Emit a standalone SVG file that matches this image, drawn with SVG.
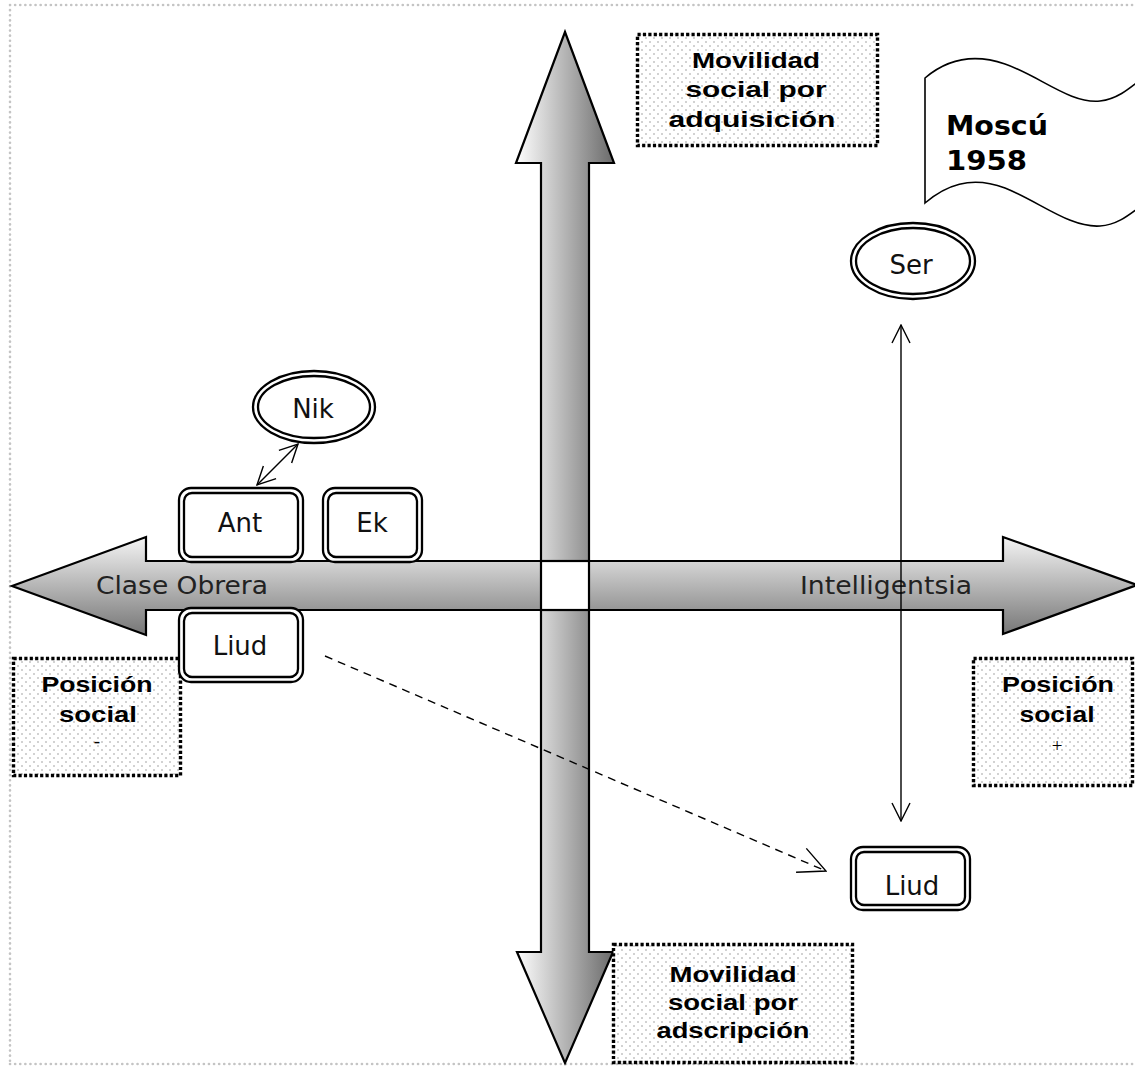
<svg xmlns="http://www.w3.org/2000/svg" width="1135" height="1066" viewBox="0 0 1135 1066">
  <style>
    .page { fill: none; stroke: #c4c4c4; stroke-width: 2.6; stroke-dasharray: 0.1 5; stroke-linecap: round; }
    .shaft { stroke: #000; stroke-width: 2.2; stroke-linejoin: miter; }
    .note { fill: url(#dots); stroke: #000; stroke-width: 3.4; stroke-dasharray: 3.2 2.2; }
    .note-t { font-family: "Liberation Sans", Arial, sans-serif; font-weight: bold; font-size: 22px; fill: #000; text-anchor: middle; }
    .sign { font-family: "Liberation Serif", "Times New Roman", serif; font-size: 19px; fill: #000; text-anchor: middle; }
    .dbl { fill: #fff; stroke: #000; stroke-width: 2.3; }
    .node-t { font-family: "DejaVu Sans", Verdana, sans-serif; font-size: 26px; fill: #111; text-anchor: middle; }
    .axis-t { font-family: "DejaVu Sans", Verdana, sans-serif; font-size: 24px; fill: #222; }
    .flag-t { font-family: "DejaVu Sans", Verdana, sans-serif; font-weight: bold; font-size: 27px; fill: #000; }
    .link { fill: none; stroke: #000; stroke-width: 1.4; }
    .dash { stroke-dasharray: 8 6; }
  </style>
  <defs>
    <linearGradient id="gradV" x1="0" y1="0" x2="1" y2="0">
      <stop offset="0" stop-color="#ffffff"/>
      <stop offset="1" stop-color="#6a6a6a"/>
    </linearGradient>
    <linearGradient id="gradH" x1="0" y1="0" x2="0" y2="1">
      <stop offset="0" stop-color="#f4f4f4"/>
      <stop offset="1" stop-color="#767676"/>
    </linearGradient>
    <pattern id="dots" width="8" height="8" patternUnits="userSpaceOnUse">
      <rect width="8" height="8" fill="#fff"/>
      <circle cx="2" cy="2" r="0.8" fill="#9a9a9a"/>
      <circle cx="6" cy="6" r="0.8" fill="#9a9a9a"/>
    </pattern>
    <marker id="open" viewBox="0 0 22 22" refX="21" refY="11" markerWidth="22" markerHeight="22" markerUnits="userSpaceOnUse" orient="auto-start-reverse">
      <path d="M3,2 L21,11 L3,20" fill="none" stroke="#000" stroke-width="1.4" stroke-dasharray="none"/>
    </marker>
    <marker id="openBig" viewBox="0 0 32 32" refX="31" refY="16" markerWidth="32" markerHeight="32" markerUnits="userSpaceOnUse" orient="auto">
      <path d="M4,3 L31,16 L4,29" fill="none" stroke="#000" stroke-width="1.4" stroke-dasharray="none"/>
    </marker>
  </defs>

  <!-- page frame -->
  <path class="page" d="M10,5 H1135 M10,5 V1064 M10,1064 H1135"/>

  <!-- axes -->
  <g id="axis-vertical">
    <polygon class="shaft" fill="url(#gradV)" points="565,32 614,163 589,163 589,952 613,952 565,1063 517,952 541,952 541,163 516,163"/>
  </g>
  <g id="axis-horizontal">
    <polygon class="shaft" fill="url(#gradH)" points="12,586 146,537 146,561 1003,561 1003,537 1137,585 1003,634 1003,610 146,610 146,635"/>
    <rect x="541" y="561" width="48" height="49" fill="#fff" stroke="#000" stroke-width="2.2"/>
    <text class="axis-t" x="96" y="594" textLength="172" lengthAdjust="spacingAndGlyphs">Clase Obrera</text>
    <text class="axis-t" x="800" y="594" textLength="172" lengthAdjust="spacingAndGlyphs">Intelligentsia</text>
  </g>

  <!-- labels -->
  <g id="note-adquisicion">
    <rect class="note" x="637.5" y="34.5" width="240" height="111"/>
    <text class="note-t" x="756" y="68" textLength="128" lengthAdjust="spacingAndGlyphs">Movilidad</text>
    <text class="note-t" x="756" y="97" textLength="141" lengthAdjust="spacingAndGlyphs">social por</text>
    <text class="note-t" x="752" y="127" textLength="167" lengthAdjust="spacingAndGlyphs">adquisición</text>
  </g>
  <g id="note-adscripcion">
    <rect class="note" x="613.5" y="944.5" width="239" height="118"/>
    <text class="note-t" x="733" y="982" textLength="127" lengthAdjust="spacingAndGlyphs">Movilidad</text>
    <text class="note-t" x="733" y="1010" textLength="130" lengthAdjust="spacingAndGlyphs">social por</text>
    <text class="note-t" x="733" y="1038" textLength="153" lengthAdjust="spacingAndGlyphs">adscripción</text>
  </g>
  <g id="note-pos-minus">
    <rect class="note" x="13.5" y="658.5" width="167" height="117"/>
    <text class="note-t" x="97" y="692" textLength="111" lengthAdjust="spacingAndGlyphs">Posición</text>
    <text class="note-t" x="98" y="722" textLength="78" lengthAdjust="spacingAndGlyphs">social</text>
    <text class="sign" x="97" y="747">-</text>
  </g>
  <g id="note-pos-plus">
    <rect class="note" x="973.5" y="658.5" width="159" height="127"/>
    <text class="note-t" x="1058" y="692" textLength="112" lengthAdjust="spacingAndGlyphs">Posición</text>
    <text class="note-t" x="1057" y="722" textLength="75" lengthAdjust="spacingAndGlyphs">social</text>
    <text class="sign" x="1057" y="752">+</text>
  </g>

  <!-- banner -->
  <g id="flag-moscu">
    <path d="M925,78 C945,61 970,52 1005,64 C1040,76 1070,104 1100,101 C1118,99 1130,88 1145,76 L1145,203 C1130,214 1118,225 1100,226 C1070,228 1040,202 1005,188 C970,175 945,186 925,203 Z" fill="#fff" stroke="#000" stroke-width="1.6"/>
    <text class="flag-t" x="946" y="135" textLength="102" lengthAdjust="spacingAndGlyphs">Moscú</text>
    <text class="flag-t" x="946" y="170" textLength="81" lengthAdjust="spacingAndGlyphs">1958</text>
  </g>

  <!-- people -->
  <g id="node-nik">
    <ellipse class="dbl" cx="314" cy="407" rx="61" ry="36"/>
    <ellipse class="dbl" cx="314" cy="407" rx="56" ry="31"/>
    <text class="node-t" x="313" y="418">Nik</text>
  </g>
  <g id="node-ser">
    <ellipse class="dbl" cx="913" cy="261" rx="62" ry="38"/>
    <ellipse class="dbl" cx="913" cy="261" rx="57" ry="33"/>
    <text class="node-t" x="911" y="274">Ser</text>
  </g>
  <g id="node-ant">
    <rect class="dbl" x="179" y="488" width="124" height="74" rx="12"/>
    <rect class="dbl" x="184" y="493" width="114" height="64" rx="8"/>
    <text class="node-t" x="240" y="532">Ant</text>
  </g>
  <g id="node-ek">
    <rect class="dbl" x="323" y="488" width="99" height="74" rx="12"/>
    <rect class="dbl" x="328" y="493" width="89" height="64" rx="8"/>
    <text class="node-t" x="372" y="532">Ek</text>
  </g>
  <g id="node-liud-a">
    <rect class="dbl" x="179" y="608" width="124" height="74" rx="12"/>
    <rect class="dbl" x="184" y="613" width="114" height="64" rx="8"/>
    <text class="node-t" x="240" y="655">Liud</text>
  </g>
  <g id="node-liud-b">
    <rect class="dbl" x="851" y="847" width="119" height="63" rx="12"/>
    <rect class="dbl" x="856" y="852" width="109" height="53" rx="8"/>
    <text class="node-t" x="912" y="895">Liud</text>
  </g>

  <!-- connectors -->
  <g id="connectors">
    <line class="link" x1="298" y1="444" x2="257" y2="485" marker-start="url(#open)" marker-end="url(#open)"/>
    <line class="link" x1="901" y1="325" x2="901" y2="821" marker-start="url(#open)" marker-end="url(#open)"/>
    <line class="link dash" x1="325" y1="656" x2="826" y2="871" marker-end="url(#openBig)"/>
  </g>
</svg>
